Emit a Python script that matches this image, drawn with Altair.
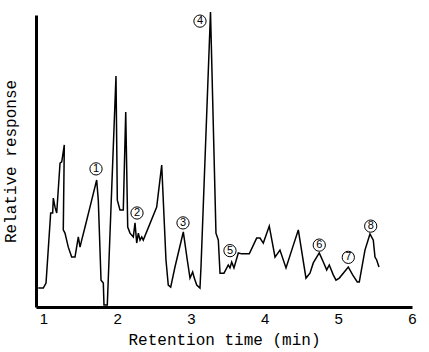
import altair as alt
import pandas as pd

# Chromatogram trace (retention time in min, relative response in %)
time_min = [0.931, 0.999, 1.036, 1.099, 1.126, 1.135, 1.158, 1.181, 1.226, 1.249,
            1.284, 1.270, 1.293, 1.338, 1.384, 1.429, 1.474, 1.497, 1.520, 1.565,
            1.632, 1.723, 1.745, 1.782, 1.813, 1.822, 1.867, 1.985, 2.003, 2.039,
            2.084, 2.117, 2.144, 2.175, 2.220, 2.243, 2.266, 2.288, 2.311, 2.334,
            2.355, 2.537, 2.605, 2.663, 2.694, 2.727, 2.785, 2.898, 2.952, 2.989,
            3.025, 3.047, 3.080, 3.124, 3.138, 3.267, 3.341, 3.373, 3.396, 3.450,
            3.508, 3.531, 3.554, 3.585, 3.644, 3.690, 3.793, 3.893, 3.938, 3.983,
            4.064, 4.142, 4.209, 4.291, 4.382, 4.458, 4.562, 4.616, 4.661, 4.742,
            4.797, 4.843, 4.878, 4.932, 4.969, 5.014, 5.136, 5.195, 5.258, 5.285,
            5.362, 5.430, 5.475, 5.498, 5.521, 5.552]
response = [6.5, 6.5, 8.2, 32.2, 32.2, 37.3, 34.2, 32.2, 49.3, 49.7,
            55.5, 26.4, 25.3, 20.5, 17.1, 17.1, 24.0, 20.5, 22.9, 27.4,
            34.2, 43.5, 36.6, 9.2, 8.2, 0.7, 0.7, 79.1, 36.6, 33.2,
            33.2, 66.8, 27.4, 25.3, 24.0, 28.8, 21.9, 25.3, 22.9, 24.0,
            22.9, 34.2, 48.6, 16.1, 7.5, 6.8, 13.7, 25.7, 16.1, 9.9,
            12.0, 9.9, 7.5, 6.5, 13.7, 101.0, 25.3, 22.9, 11.6, 11.6,
            14.4, 13.4, 15.4, 13.4, 18.5, 18.2, 18.2, 23.6, 23.6, 21.9,
            27.7, 17.1, 19.5, 13.4, 20.5, 26.4, 9.9, 11.6, 15.1, 18.5,
            15.4, 12.7, 14.4, 11.0, 9.2, 9.9, 13.7, 11.0, 8.6, 8.6,
            19.5, 25.0, 22.9, 17.1, 16.1, 13.7]

# Peak labels
peak_ids = ["1", "2", "3", "4", "5", "6", "7", "8"]
peak_time = [1.714, 2.270, 2.894, 3.124, 3.531, 4.742, 5.136, 5.440]
peak_resp = [47.3, 32.2, 28.8, 97.9, 19.3, 21.2, 17.0, 27.7]

x_ticks = [1, 2, 3, 4, 5, 6]

trace = pd.DataFrame({"t": time_min, "r": response, "i": list(range(len(time_min)))})
peaks = pd.DataFrame({"t": peak_time, "r": peak_resp, "id": peak_ids})

mono = "Liberation Mono"

x_scale = alt.Scale(domain=[0.9, 6.0], nice=False, zero=False)
y_scale = alt.Scale(domain=[0, 100], nice=False)

line = alt.Chart(trace).mark_line(color="black", strokeWidth=1.5, clip=False).encode(
    x=alt.X("t:Q", scale=x_scale,
            axis=alt.Axis(title="Retention time (min)", values=x_ticks, format="d",
                          ticks=False, grid=False, domainWidth=3, domainColor="black",
                          labelFont="Liberation Sans", labelFontSize=15, labelColor="black",
                          labelPadding=4, labelFlush=False,
                          titleFont=mono, titleFontSize=16, titleFontWeight="normal",
                          titleColor="black", titlePadding=5)),
    y=alt.Y("r:Q", scale=y_scale,
            axis=alt.Axis(title="Relative response", labels=False, ticks=False,
                          grid=False, domainWidth=3, domainColor="black",
                          titleFont=mono, titleFontSize=16, titleFontWeight="normal",
                          titleColor="black", titlePadding=18)),
    order="i:Q",
)

circles = alt.Chart(peaks).mark_point(shape="circle", size=150, filled=True,
                                      fill="white", stroke="black", strokeWidth=1,
                                      opacity=1).encode(
    x=alt.X("t:Q", scale=x_scale), y=alt.Y("r:Q", scale=y_scale))

labels = alt.Chart(peaks).mark_text(font="Liberation Sans", fontSize=11, color="black",
                                    baseline="middle", align="center").encode(
    x=alt.X("t:Q", scale=x_scale), y=alt.Y("r:Q", scale=y_scale), text="id:N")

chart = alt.layer(line, circles, labels).properties(
    width=376, height=292,
    autosize=alt.AutoSizeParams(type="none"),
    padding={"left": 36, "top": 15, "right": 17, "bottom": 45},
    background="white",
).configure_view(stroke=None)

chart.save("out.html", embed_options={"renderer": "svg", "actions": False})
